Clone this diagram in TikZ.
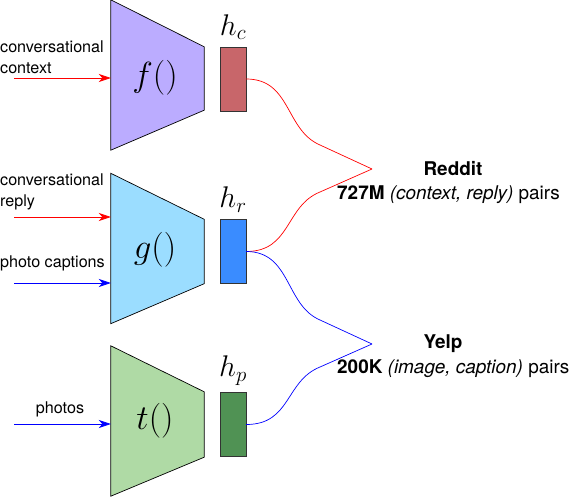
\documentclass[tikz,border=0pt]{standalone}
\usepackage{fix-cm}
\usepackage{amsmath,amssymb}
\usepackage{fontspec}
\setmainfont{TeX Gyre Heros}
\usepackage{tikz}
\usetikzlibrary{arrows.meta,calc,positioning}

\definecolor{encf}{RGB}{187,172,255}
\definecolor{encg}{RGB}{155,221,255}
\definecolor{enct}{RGB}{175,218,165}
\definecolor{vecc}{RGB}{200,102,106}
\definecolor{vecr}{RGB}{58,140,255}
\definecolor{vecp}{RGB}{80,146,84}

\begin{document}
\begin{tikzpicture}[x=1bp, y=-1bp, >={Stealth[length=12bp, width=8bp, inset=3.5bp]}]

\tikzstyle{enc} = [rectangle, minimum width=93bp, minimum height=150bp, inner sep=0pt]
\tikzstyle{trap} = [draw=black, line width=0.7pt]
\tikzstyle{fname} = [font=\fontsize{35}{36}\selectfont]
\tikzstyle{hbox} = [draw=black!80, rectangle, minimum width=26bp, minimum height=64bp, inner sep=0pt]
\tikzstyle{hname} = [font=\fontsize{30}{32}\selectfont, inner sep=0pt]
\tikzstyle{inlbl} = [font=\fontsize{16.2}{21}\selectfont, align=left, inner sep=0pt]
\tikzstyle{outlbl} = [font=\fontsize{19}{22}\selectfont, inner sep=0pt]

\useasboundingbox (0,0) rectangle (574,497);

% Encoders
\node[enc] (f) at (157.5,75) {};
\node[enc] (g) at (157.5,248.5) {};
\node[enc] (t) at (157.5,421) {};
\draw[trap, fill=encf] (f.north west) -- ($(f.north east)+(0,47)$) -- ($(f.south east)+(0,-40)$) -- (f.south west) -- cycle;
\draw[trap, fill=encg] (g.north west) -- ($(g.north east)+(0,46)$) -- ($(g.south east)+(0,-40)$) -- (g.south west) -- cycle;
\draw[trap, fill=enct] (t.north west) -- ($(t.north east)+(0,46)$) -- ($(t.south east)+(0,-39)$) -- (t.south west) -- cycle;
\node[fname] (flbl) at (155,78) {$f()$};
\node[fname] (glbl) at (155,250) {$g()$};
\node[fname] (tlbl) at (155,421) {$t()$};

% Encoded vectors
\node[hbox, fill=vecc] (hc) at (233,79) {};
\node[hbox, fill=vecr] (hr) at (233,251.5) {};
\node[hbox, fill=vecp] (hp) at (233,424.5) {};
\node[hname, above=7bp of hc] (hclbl) {$h_c$};
\node[hname, above=7bp of hr] (hrlbl) {$h_r$};
\node[hname, above=7bp of hp] (hplbl) {$h_p$};

% Inputs
\node[inlbl, anchor=west] (ctx) at (0,57) {conversational\\context};
\node[inlbl, anchor=west] (rep) at (0,192) {conversational\\reply};
\node[inlbl, anchor=west] (cap) at (0,263) {photo captions};
\node[inlbl] (pho) at (60,409) {photos};
\coordinate (inctx) at (14,78);
\coordinate (inrep) at (14,217);
\coordinate (incap) at (14,283);
\coordinate (inpho) at (14,424);
\draw[->, red, line width=0.8pt] (inctx) -- (inctx -| f.west);
\draw[->, red, line width=0.8pt] (inrep) -- (inrep -| g.west);
\draw[->, blue, line width=0.8pt] (incap) -- (incap -| g.west);
\draw[->, blue, line width=0.8pt] (inpho) -- (inpho -| t.west);

% Datasets
\coordinate (rtip) at (372,169);
\coordinate (ytip) at (372,344);
\draw[red, line width=0.7pt] (hc.east) .. controls +(45,0) and (285,130) .. (320,145) -- (rtip);
\draw[red, line width=0.7pt] (hr.east) .. controls +(45,0) and (285,206) .. (320,192) -- (rtip);
\draw[blue, line width=0.7pt] (hr.east) .. controls +(45,0) and (285,305) .. (320,320) -- (ytip);
\draw[blue, line width=0.7pt] (hp.east) .. controls +(45,0) and (285,381) .. (320,367) -- (ytip);

\node[outlbl] (reddit) at (453,169) {\textbf{Reddit}};
\node[outlbl, anchor=west] (redditpairs) at (337,195) {\textbf{727M} \textit{(context, reply)} pairs};
\node[outlbl] (yelp) at (443,344) {\textbf{Yelp}};
\node[outlbl, anchor=west] (yelppairs) at (337,369) {\textbf{200K} \textit{(image, caption)} pairs};

\end{tikzpicture}
\end{document}
